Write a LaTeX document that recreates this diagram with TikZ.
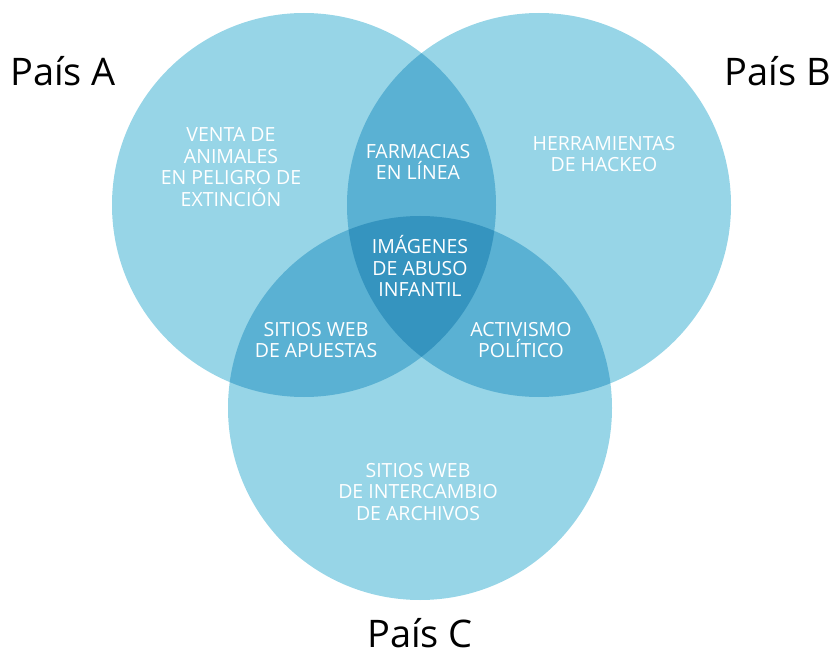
\documentclass[tikz,border=0pt]{standalone}
\usepackage{fontspec}
\setmainfont{Open Sans}
\definecolor{vone}{HTML}{97D5E7}
\definecolor{vtwo}{HTML}{5AB1D3}
\definecolor{vthree}{HTML}{3594BF}

\begin{document}
\begin{tikzpicture}[x=1pt,y=-1pt,
  area/.style={white,align=center,font=\fontsize{19.5}{21.5}\selectfont},
  country/.style={black,font=\fontsize{38}{40}\selectfont}]
\useasboundingbox (0,0) rectangle (833,655);
\coordinate (A) at (304,205);
\coordinate (B) at (539,205);
\coordinate (C) at (420,408);
% circles
\fill[vone] (A) circle[radius=192];
\fill[vone] (B) circle[radius=192];
\fill[vone] (C) circle[radius=192];
% pairwise overlaps
\begin{scope}
  \clip (A) circle[radius=192];
  \fill[vtwo] (B) circle[radius=192];
  \fill[vtwo] (C) circle[radius=192];
\end{scope}
\begin{scope}
  \clip (B) circle[radius=192];
  \fill[vtwo] (C) circle[radius=192];
\end{scope}
% centre
\begin{scope}
  \clip (A) circle[radius=192];
  \clip (B) circle[radius=192];
  \fill[vthree] (C) circle[radius=192];
\end{scope}
\node[country] (pa) at (63,71) {País A};
\node[country] (pb) at (778,71) {País B};
\node[country] (pc) at (420,633) {País C};
\node[area] (venta) at (231,167) {VENTA DE\\ANIMALES\\EN PELIGRO DE\\EXTINCIÓN};
\node[area] (farm) at (418,162) {FARMACIAS\\EN LÍNEA};
\node[area] (herr) at (604,154) {HERRAMIENTAS\\DE HACKEO};
\node[area] (abuso) at (420,266) {IMÁGENES\\DE ABUSO\\INFANTIL};
\node[area] (apuestas) at (316,340) {SITIOS WEB\\DE APUESTAS};
\node[area] (activ) at (521,340) {ACTIVISMO\\POLÍTICO};
\node[area] (archivos) at (418,492) {SITIOS WEB\\DE INTERCAMBIO\\DE ARCHIVOS};
\end{tikzpicture}
\end{document}
